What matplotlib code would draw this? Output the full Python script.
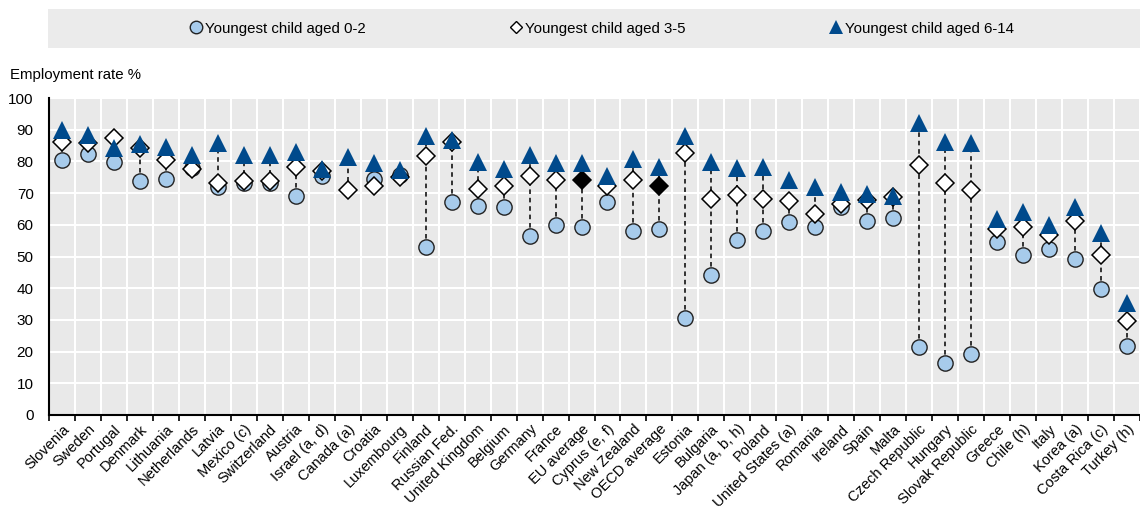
import numpy as np
import matplotlib.pyplot as plt
from matplotlib.patches import Rectangle

plt.rcParams['font.family'] = ['Liberation Sans', 'DejaVu Sans']

countries = ['Slovenia', 'Sweden', 'Portugal', 'Denmark', 'Lithuania', 'Netherlands',
             'Latvia', 'Mexico (c)', 'Switzerland', 'Austria', 'Israel (a, d)', 'Canada (a)',
             'Croatia', 'Luxembourg', 'Finland', 'Russian Fed.', 'United Kingdom', 'Belgium',
             'Germany', 'France', 'EU average', 'Cyprus (e, f)', 'New Zealand', 'OECD average',
             'Estonia', 'Bulgaria', 'Japan (a, b, h)', 'Poland', 'United States (a)', 'Romania',
             'Ireland', 'Spain', 'Malta', 'Czech Republic', 'Hungary', 'Slovak Republic',
             'Greece', 'Chile (h)', 'Italy', 'Korea (a)', 'Costa Rica (c)', 'Turkey (h)']

aged_0_2 = [80.4, 82.2, 79.7, 73.8, 74.4, 78.0, 72.0, 73.1, 73.1, 69.1, 75.5, np.nan,
            74.3, 75.7, 52.9, 67.1, 66.0, 65.5, 56.5, 60.0, 59.4, 67.2, 57.9, 58.8,
            30.6, 44.3, 55.2, 58.0, 61.0, 59.2, 65.7, 61.2, 62.3, 21.5, 16.3, 19.1,
            54.7, 50.5, 52.3, 49.1, 39.7, 21.9]

aged_3_5 = [86.2, 85.7, 87.3, 84.1, 80.4, 77.5, 73.3, 73.8, 73.8, 78.1, 77.0, 71.0,
            72.2, 75.2, 81.7, 86.2, 71.4, 72.3, 75.5, 74.0, 74.2, 72.2, 74.1, 72.3,
            82.6, 68.1, 69.5, 68.2, 67.6, 63.5, 66.7, 67.7, 68.9, 78.9, 73.3, 71.0,
            58.6, 59.4, 56.8, 61.3, 50.5, 29.7]

aged_6_14 = [89.9, 88.3, 84.1, 85.5, 84.6, 82.0, 85.7, 82.0, 82.0, 83.1, 77.7, 81.5,
             79.6, 77.3, 88.0, 86.7, 79.9, 77.5, 82.0, 79.6, 79.6, 75.5, 80.9, 78.1,
             88.0, 79.8, 77.8, 78.1, 74.1, 72.0, 70.4, 69.7, 69.1, 92.0, 86.2, 85.7,
             61.7, 64.1, 59.9, 65.7, 57.5, 35.2]

averages = ['EU average', 'OECD average']

x = np.arange(len(countries))
a = np.array(aged_0_2)
b = np.array(aged_3_5)
c = np.array(aged_6_14)

fig = plt.figure(figsize=(11.4, 5.09), dpi=100)
ax = fig.add_axes([49 / 1140, 94 / 509, 1 - 49 / 1140, 317 / 509])
ax.set_facecolor('#e9e9e9')

# dashed range line
stack = np.vstack([a, b, c])
lo = np.nanmin(stack, axis=0)
hi = np.nanmax(stack, axis=0)
ax.vlines(x, lo, hi, colors='black', linestyles=(0, (3, 2.5)), linewidth=1.1, zorder=2)

ax.plot(x, a, 'o', ms=11, mfc='#a7cbeb', mec='#222222', mew=1.0, zorder=3)
is_avg = np.array([cn in averages for cn in countries])
ax.plot(x[~is_avg], b[~is_avg], 'D', ms=9, mfc='white', mec='black', mew=1.1, zorder=4)
ax.plot(x[is_avg], b[is_avg], 'D', ms=9, mfc='black', mec='black', mew=1.1, zorder=4)
ax.plot(x, c, '^', ms=12.5, mfc='#004a8c', mec='#004a8c', mew=0, zorder=5)

ax.set_ylim(0, 100)
ax.set_yticks(range(0, 101, 10))
ax.set_xlim(-0.5, len(countries) - 0.77)
ax.set_xticks(x)
ax.set_xticklabels(countries, rotation=45, ha='right', rotation_mode='anchor', fontsize=10.5)
ax.set_xticks(np.arange(-0.5, len(countries), 1), minor=True)
ax.tick_params(axis='x', which='major', length=0, pad=5)
ax.tick_params(axis='x', which='minor', length=4, width=1.2, color='black', direction='out')
ax.tick_params(axis='y', length=0, labelsize=11, pad=11)
ax.grid(which='minor', axis='x', color='white', linewidth=1.5)
ax.grid(which='major', axis='y', color='white', linewidth=1.5)
ax.set_axisbelow(True)
for s in ['top', 'right']:
    ax.spines[s].set_visible(False)
ax.spines['left'].set_linewidth(1.5)
ax.spines['bottom'].set_linewidth(1.5)

fig.text(10 / 1140, 1 - 75 / 509, 'Employment rate %', fontsize=10.8, va='center', ha='left')

# legend band
fig.patches.append(Rectangle((48 / 1140, 1 - 48 / 509), 1 - 48 / 1140, 39 / 509,
                             transform=fig.transFigure, facecolor='#ebebeb', edgecolor='none', zorder=0))
h1, = ax.plot([], [], 'o', ms=9, mfc='#a7cbeb', mec='#222222', mew=1.0)
h2, = ax.plot([], [], 'D', ms=6.5, mfc='white', mec='black', mew=1.0)
h3, = ax.plot([], [], '^', ms=10.5, mfc='#004a8c', mec='#004a8c', mew=0)
fig.legend([h1, h2, h3], ['Youngest child aged 0-2', 'Youngest child aged 3-5', 'Youngest child aged 6-14'],
           loc='center', bbox_to_anchor=(602 / 1140, 1 - 28.5 / 509), ncol=3, frameon=False,
           fontsize=10.8, handlelength=0.8, handletextpad=0.2, columnspacing=9.6)

fig.savefig('out.png', dpi=100)
